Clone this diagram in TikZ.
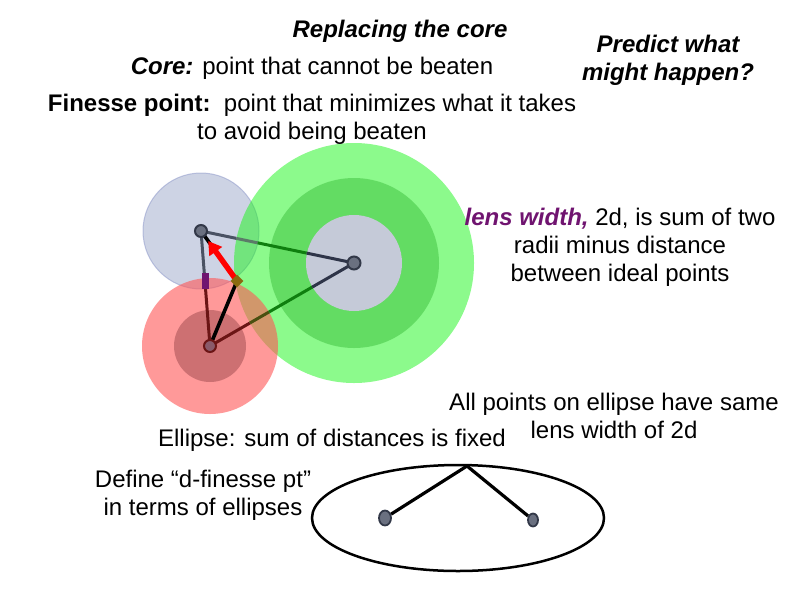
\documentclass[tikz,border=0pt]{standalone}
\usepackage{fontspec}
\setmainfont{Liberation Sans}
\usetikzlibrary{arrows.meta,calc,shapes.geometric}

\definecolor{bluedisk}{RGB}{172,182,210}
\definecolor{blueedge}{RGB}{150,160,205}
\definecolor{greenouter}{RGB}{25,245,25}
\definecolor{greenmid}{RGB}{60,190,60}
\definecolor{coregray}{RGB}{197,202,216}
\definecolor{reddisk}{RGB}{255,85,85}
\definecolor{redinner}{RGB}{155,71,77}
\definecolor{slateline}{RGB}{74,82,99}
\definecolor{navyline}{RGB}{46,52,72}
\definecolor{mixline}{RGB}{91,123,104}
\definecolor{greenline}{RGB}{15,127,15}
\definecolor{darkred}{RGB}{107,21,21}
\definecolor{oliveline}{RGB}{74,80,16}
\definecolor{dotgray}{RGB}{106,112,128}
\definecolor{dotedge}{RGB}{50,56,72}
\definecolor{reddot}{RGB}{138,90,106}
\definecolor{lenspurple}{RGB}{112,20,112}
\definecolor{finbrown}{RGB}{139,106,16}

\begin{document}
\begin{tikzpicture}[
    x=1pt, y=-1pt,
    font=\fontsize{24}{28}\selectfont,
    txt/.style={align=center, inner sep=0pt},
    bi/.style={font=\fontsize{24}{28}\selectfont\bfseries\itshape},
    dot/.style={circle, draw=dotedge, line width=2pt, fill=dotgray, minimum size=12pt, inner sep=0pt},
    focus/.style={ellipse, draw=dotedge, line width=1.8pt, fill=dotgray, inner sep=0pt},
    disk/.style={fill opacity=0.6},
    seg/.style={line width=3pt},
    thickline/.style={line width=3.6pt, black},
    arr/.style={-{Triangle[length=13pt, width=15pt]}, line width=5.5pt, red}
]
\useasboundingbox (0,0) rectangle (800,600);

% ideal points and the finesse point
\coordinate (blue) at (201,231);
\coordinate (green) at (354,263);
\coordinate (red) at (210,346);
\coordinate (fin) at (237,281);

% disks round the ideal points
\fill[bluedisk, disk, draw=blueedge, draw opacity=0.6, line width=1pt] (blue) circle (58);
\fill[greenouter, fill opacity=0.5] (green) circle (120);
\fill[greenmid, fill opacity=0.5] (green) circle (85);
\fill[coregray] (green) circle (48);
\fill[reddisk, disk] (red) circle (68);
\fill[redinner, fill opacity=0.5] (red) circle (36);

% connectors between ideal points
\draw[seg, slateline] (blue) -- ($(blue)!0.23!(green)$);
\draw[seg, mixline] ($(blue)!0.23!(green)$) -- ($(blue)!0.37!(green)$);
\draw[seg, greenline] ($(blue)!0.37!(green)$) -- ($(blue)!0.69!(green)$);
\draw[seg, navyline] ($(blue)!0.69!(green)$) -- (green);

\draw[seg, darkred] (red) -- ($(red)!0.277!(green)$);
\draw[seg, oliveline] ($(red)!0.277!(green)$) -- ($(red)!0.41!(green)$);
\draw[seg, greenline] ($(red)!0.41!(green)$) -- ($(red)!0.71!(green)$);
\draw[seg, navyline] ($(red)!0.71!(green)$) -- (green);

\draw[seg, slateline] (blue) -- ($(blue)!0.41!(red)$);
\draw[seg, darkred] ($(blue)!0.5!(red)$) -- (red);
\fill[lenspurple] (202,273) rectangle (209,289);

\draw[thickline] (red) -- (fin) -- (blue);
\draw[arr] (fin) -- ($(fin)!0.8!(blue)$);

\node[dot] (pblue) at (blue) {};
\node[dot, minimum size=13pt] (pgreen) at (green) {};
\node[dot, draw=darkred, fill=reddot] (pred) at (red) {};
\node[rectangle, rotate=45, fill=finbrown, minimum size=9pt, inner sep=0pt] (pfin) at (fin) {};

% ellipse with two foci
\draw[line width=2.5pt] (458,518) ellipse [x radius=146, y radius=53];
\coordinate (top) at (467,466);
\node[focus, minimum width=12pt, minimum height=15pt] (fleft) at (385,518) {};
\node[focus, minimum width=10pt, minimum height=13pt] (fright) at (533,520) {};
\draw[thickline, line width=3.2pt] (fleft) -- (top) -- (fright);

% texts
\node[txt, bi] (title) at (400,31) {Replacing the core};
\node[txt] (core) at (312,68) {\textbf{\textit{Core:}} point that cannot be beaten};
\node[txt] (finesse) at (312,119) {\textbf{Finesse point:}\ \ point that minimizes what it takes\\to avoid being beaten};
\node[txt, bi] (predict) at (668,60) {Predict what\\might happen?};
\node[txt] (lens) at (620,247) {\textbf{\textit{\color{lenspurple}lens width,}} 2d, is sum of two\\radii minus distance\\between ideal points};
\node[txt] (same) at (614,416) {All points on ellipse have same\\lens width of 2d};
\node[txt] (fixed) at (332,440) {Ellipse: sum of distances is fixed};
\node[txt] (define) at (203,495) {Define “d-finesse pt”\\in terms of ellipses};
\end{tikzpicture}
\end{document}
